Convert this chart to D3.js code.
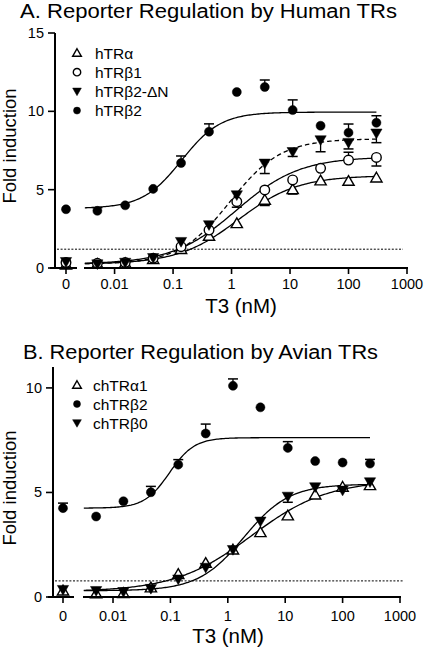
<!DOCTYPE html>
<html><head><meta charset="utf-8">
<script src="https://cdn.jsdelivr.net/npm/d3@7"></script>
<style>body{margin:0;background:#fff}svg{display:block;font-family:"Liberation Sans",Arial,sans-serif}</style>
</head><body><svg id="c" width="425" height="651"></svg>
<script>
// ---------- data ----------
const doses = [0, 0.00508, 0.0152, 0.0457, 0.137, 0.412, 1.23, 3.70, 11.1, 33.3, 100, 300];
const xTickValues = [0, 0.01, 0.1, 1, 10, 100, 1000];
const xTickLabels = ["0", "0.01", "0.1", "1", "10", "100", "1000"];
const yTicksA = [0, 5, 10, 15];
const yTicksB = [0, 5, 10];

// Panel A (Human TRs)
const namesA = ["hTRα", "hTRβ1", "hTRβ2-ΔN", "hTRβ2"];
const hTRa    = [0.20, 0.25, 0.30, 0.55, 1.20, 2.04, 2.85, 4.34, 5.02, 5.58, 5.55, 5.76];
const hTRb1   = [0.35, 0.30, 0.35, 0.62, 1.36, 2.42, 4.23, 4.98, 5.62, 6.36, 6.89, 7.06];
const hTRb2dN = [0.40, 0.25, 0.35, 0.65, 1.68, 2.75, 4.66, 6.68, 7.42, 8.17, 8.00, 8.60];
const hTRb2   = [3.75, 3.65, 4.00, 5.05, 6.70, 8.70, 11.23, 11.55, 10.08, 9.08, 8.64, 9.27];
// signed error bars (+ drawn up, - drawn down)
const errA_a    = [0, 0, 0, 0, 0, 0, 0, -0.35, -0.3, 0, 0, 0];
const errA_b1   = [0, 0, 0, 0, 0, 0, -0.35, 0, 0, 0, 0.5, -0.55];
const errA_b2dN = [0, 0, 0, 0, 0, 0, 0, -0.65, -0.3, -0.75, -0.4, -0.6];
const errA_b2   = [0, 0.2, 0, 0, 0.45, 0.5, 0, 0.45, 0.65, 0, 0.55, 0.45];
// fitted curves: [bottom, top, EC50, Hill]
const fitA_a    = [0.25, 5.9, 1.3, 0.85];
const fitA_b1   = [0.25, 7.1, 1.2, 0.8];
const fitA_b2dN = [0.25, 8.25, 0.95, 1.0];
const fitA_b2   = [3.8, 9.95, 0.14, 1.3];
const cutoffA = 1.2;

// Panel B (Avian TRs)
const namesB = ["chTRα1", "chTRβ2", "chTRβ0"];
const chTRa1 = [0.30, 0.16, 0.18, 0.45, 1.09, 1.62, 2.26, 3.09, 3.89, 4.89, 5.26, 5.34];
const chTRb2 = [4.25, 3.85, 4.58, 5.01, 6.33, 7.82, 10.10, 9.07, 7.13, 6.50, 6.43, 6.38];
const chTRb0 = [0.35, 0.30, 0.25, 0.40, 0.85, 1.41, 2.26, 3.62, 4.81, 5.26, 5.10, 5.50];
const errB_a1 = [-0.15, 0, 0, 0, 0, 0, 0, 0, 0, 0, 0, 0];
const errB_b2 = [0.24, 0, 0, 0.28, 0.24, 0.45, 0.33, 0, 0.3, 0, 0, 0.2];
const errB_b0 = [0, 0, 0, 0, 0, 0, 0, 0, -0.28, 0, 0, 0];
const fitB_a1 = [0.25, 5.6, 2.57, 0.65];
const fitB_b2 = [4.25, 7.62, 0.096, 2.0];
const fitB_b0 = [0.3, 5.4, 1.9, 1.1];
const cutoffB = 0.77;

// ---------- drawing ----------
const svg = d3.select("#c");
const hill = (p, x) => p[0] + (p[1] - p[0]) / (1 + Math.pow(p[2] / x, p[3]));

function drawSymbol(g, type, x, y, area) {
  const sym = type === "triUp" || type === "triDown" ? d3.symbolTriangle : d3.symbolCircle;
  const open = type === "triUp" || type === "openCircle";
  return g.append("path")
    .attr("d", d3.symbol().type(sym).size(area)())
    .attr("transform", `translate(${x},${y})` + (type === "triDown" ? " rotate(180)" : ""))
    .attr("fill", open ? "#fff" : "#000")
    .attr("stroke", "#000")
    .attr("stroke-width", open ? 1.4 : 0.5);
}

function panel(cfg) {
  const g = svg.append("g");
  const xLog = d3.scaleLog().domain([0.003, 1000]).range(cfg.mainRange);
  const xPos = v => v === 0 ? cfg.zeroX : xLog(v);
  const y = d3.scaleLinear().domain(cfg.yDomain).range([cfg.axisY, cfg.topY]);

  // title
  g.append("text").attr("x", cfg.titleX).attr("y", cfg.titleY)
    .attr("font-size", 20).attr("textLength", cfg.titleLen)
    .attr("lengthAdjust", "spacingAndGlyphs").text(cfg.title);

  // cutoff dotted line
  g.append("line").attr("x1", cfg.yAxisX + 2).attr("x2", 403)
    .attr("y1", y(cfg.cutoff)).attr("y2", y(cfg.cutoff))
    .attr("stroke", "#000").attr("stroke-width", 1).attr("stroke-dasharray", "2,1.6");

  // fitted curves
  const samples = d3.range(0, 201).map(i => Math.pow(10, Math.log10(0.0031) + i * (Math.log10(300) - Math.log10(0.0031)) / 200));
  const line = d3.line().x(d => xLog(d[0])).y(d => y(d[1]));
  cfg.series.forEach(s => {
    g.append("path").datum(samples.map(x => [x, hill(s.fit, x)]))
      .attr("d", line).attr("fill", "none").attr("stroke", "#000")
      .attr("stroke-width", 1.3).attr("stroke-dasharray", s.dashed ? "4.5,3" : null);
  });

  // error bars
  cfg.series.forEach(s => {
    doses.forEach((d, i) => {
      const e = s.err[i];
      if (!e) return;
      const cx = xPos(d), y0 = y(s.values[i]), y1 = y(s.values[i] + e);
      g.append("line").attr("x1", cx).attr("x2", cx).attr("y1", y0).attr("y2", y1)
        .attr("stroke", "#000").attr("stroke-width", 1.3);
      g.append("line").attr("x1", cx - 5).attr("x2", cx + 5).attr("y1", y1).attr("y2", y1)
        .attr("stroke", "#000").attr("stroke-width", 1.5);
    });
  });

  // markers
  cfg.series.forEach(s => {
    doses.forEach((d, i) => {
      drawSymbol(g, s.sym, xPos(d), y(s.values[i]) + (s.sym === "triUp" ? 1 : s.sym === "triDown" ? -1 : 0), s.area);
    });
  });

  // y axis
  g.append("line").attr("x1", cfg.yAxisX).attr("x2", cfg.yAxisX)
    .attr("y1", cfg.axisY + 1).attr("y2", cfg.topY)
    .attr("stroke", "#000").attr("stroke-width", 2);
  cfg.yTicks.forEach(t => {
    g.append("line").attr("x1", cfg.yAxisX - 7).attr("x2", cfg.yAxisX)
      .attr("y1", y(t)).attr("y2", y(t)).attr("stroke", "#000").attr("stroke-width", 1.6);
    g.append("text").attr("x", cfg.yAxisX - 11).attr("y", y(t) + 5)
      .attr("text-anchor", "end").attr("font-size", 14.5).text(t);
  });

  // x axis (broken)
  g.append("line").attr("x1", cfg.zeroSeg[0]).attr("x2", cfg.zeroSeg[1])
    .attr("y1", cfg.axisY).attr("y2", cfg.axisY).attr("stroke", "#000").attr("stroke-width", 2);
  g.append("line").attr("x1", cfg.mainRange[0]).attr("x2", cfg.mainRange[1] + 1)
    .attr("y1", cfg.axisY).attr("y2", cfg.axisY).attr("stroke", "#000").attr("stroke-width", 2);
  xTickValues.forEach((t, i) => {
    const px = xPos(t);
    g.append("line").attr("x1", px).attr("x2", px).attr("y1", cfg.axisY).attr("y2", cfg.axisY + 6)
      .attr("stroke", "#000").attr("stroke-width", 1.6);
    g.append("text").attr("x", px).attr("y", cfg.tickLabelY)
      .attr("text-anchor", "middle").attr("font-size", 14.5).text(xTickLabels[i]);
  });

  // axis titles
  g.append("text").attr("x", cfg.xLabelX).attr("y", cfg.xLabelY)
    .attr("text-anchor", "middle").attr("font-size", 20.5).text("T3 (nM)");
  g.append("text").attr("transform", `translate(16,${cfg.yLabelY}) rotate(-90)`)
    .attr("text-anchor", "middle").attr("font-size", 18.5).text("Fold induction");

  // legend
  cfg.legend.forEach((L, i) => {
    const ly = cfg.legendY + i * cfg.legendStep;
    drawSymbol(g, L.sym, cfg.legendSymX, ly + (L.sym === "triUp" ? 0.8 : L.sym === "triDown" ? -0.8 : 0), L.area * 0.6);
    g.append("text").attr("x", cfg.legendTextX).attr("y", ly + 5.5)
      .attr("font-size", 15.5).text(L.name);
  });
}

const sA = [
  { values: hTRa, err: errA_a, fit: fitA_a, sym: "triUp", area: 55 },
  { values: hTRb1, err: errA_b1, fit: fitA_b1, sym: "openCircle", area: 72 },
  { values: hTRb2dN, err: errA_b2dN, fit: fitA_b2dN, sym: "triDown", area: 55, dashed: true },
  { values: hTRb2, err: errA_b2, fit: fitA_b2, sym: "circle", area: 64 }
];
panel({
  title: "A. Reporter Regulation by Human TRs", titleX: 20, titleY: 18, titleLen: 377,
  mainRange: [84, 407], zeroX: 66, zeroSeg: [50, 77], yAxisX: 55,
  axisY: 268, topY: 33, yDomain: [0, 15], yTicks: yTicksA, cutoff: cutoffA,
  tickLabelY: 289, xLabelX: 241, xLabelY: 313, yLabelY: 146,
  series: sA,
  legend: namesA.map((n, i) => ({ name: n, sym: sA[i].sym, area: sA[i].area })),
  legendY: 53, legendStep: 19.2, legendSymX: 77, legendTextX: 95
});

const sB = [
  { values: chTRa1, err: errB_a1, fit: fitB_a1, sym: "triUp", area: 55 },
  { values: chTRb2, err: errB_b2, fit: fitB_b2, sym: "circle", area: 64 },
  { values: chTRb0, err: errB_b0, fit: fitB_b0, sym: "triDown", area: 55 }
];
panel({
  title: "B. Reporter Regulation by Avian TRs", titleX: 23, titleY: 359, titleLen: 355,
  mainRange: [83, 400], zeroX: 63, zeroSeg: [48, 74], yAxisX: 53,
  axisY: 597, topY: 367, yDomain: [0, 11], yTicks: yTicksB, cutoff: cutoffB,
  tickLabelY: 621, xLabelX: 228, xLabelY: 643, yLabelY: 488,
  series: sB,
  legend: namesB.map((n, i) => ({ name: n, sym: sB[i].sym, area: sB[i].area })),
  legendY: 385, legendStep: 19, legendSymX: 77, legendTextX: 93
});
</script></body></html>
